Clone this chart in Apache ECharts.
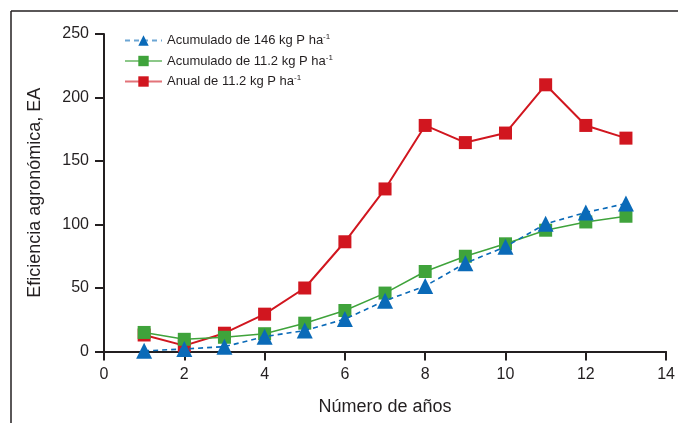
<!DOCTYPE html>
<html>
<head>
<meta charset="utf-8">
<script src="https://cdn.jsdelivr.net/npm/echarts@6/dist/echarts.min.js"></script>
<style>
  html, body { margin: 0; padding: 0; background: #ffffff; }
  #chart { width: 678px; height: 423px; }
</style>
</head>
<body>
<div id="chart"></div>
<script>
// Years since the start of the trial
var years = [1, 2, 3, 4, 5, 6, 7, 8, 9, 10, 11, 12, 13];

// Agronomic efficiency (EA) for each treatment
var acumulado146 = [0.5, 2, 3.8, 11.7, 16.5, 25.5, 40, 51.5, 69.5, 82.5, 100.5, 109.5, 116.5];
var acumulado112 = [15, 9.6, 11.2, 14, 22.3, 32.3, 46, 63, 75, 84.8, 95.5, 102, 106.5];
var anual112 = [13, 4.6, 14.4, 29.4, 50, 86.4, 128, 178, 164.5, 172, 210, 178, 168];

// Series labels (the unit's "-1" is set as a superscript)
var seriesNames = ['Acumulado de 146 kg P ha', 'Acumulado de 11.2 kg P ha', 'Anual de 11.2 kg P ha'];
var supText = '-1';

// Axis titles and tick values
var yTitle = 'Eficiencia agronómica, EA';
var xTitle = 'Número de años';
var xTicks = [0, 14, 2];
var yTicks = [0, 250, 50];

var BLUE = '#0a6ab8', GREEN = '#3fa33b', RED = '#d1161f', INK = '#231f20';
var FONT = 'Liberation Sans, Arial, sans-serif';

function pairs(vals) {
  return years.map(function (y, i) { return [y, vals[i]]; });
}

var chart = echarts.init(document.getElementById('chart'), null, { renderer: 'canvas' });

chart.setOption({
  backgroundColor: '#ffffff',
  animation: false,
  grid: { left: 104, right: 8.5, top: 34, bottom: 71.5, containLabel: false },
  graphic: [
    { type: 'line', shape: { x1: 11, y1: 11, x2: 678, y2: 11 }, style: { stroke: INK, lineWidth: 1.5 } },
    { type: 'line', shape: { x1: 11, y1: 11, x2: 11, y2: 423 }, style: { stroke: INK, lineWidth: 1.5 } }
  ],
  legend: {
    orient: 'vertical',
    left: 119,
    top: 28,
    itemWidth: 37,
    itemHeight: 13,
    itemGap: 6.5,
    data: seriesNames.map(function (n) { return { name: n, lineStyle: { opacity: 0.6 } }; }),
    formatter: function (name) { return name + '{sup|' + supText + '}'; },
    textStyle: {
      fontFamily: FONT,
      fontSize: 13,
      color: INK,
      rich: {
        sup: { fontFamily: FONT, fontSize: 8, color: INK, verticalAlign: 'top', padding: [0, 0, 7, 0] }
      }
    }
  },
  xAxis: {
    type: 'value',
    min: xTicks[0],
    max: xTicks[1],
    interval: xTicks[2],
    name: xTitle,
    nameLocation: 'middle',
    nameGap: 47,
    nameTextStyle: { fontFamily: FONT, fontSize: 18, color: INK },
    splitLine: { show: false },
    axisLine: { onZero: false, lineStyle: { color: INK, width: 2 } },
    axisTick: { show: true, length: 9, lineStyle: { color: INK, width: 2 } },
    axisLabel: { margin: 15, fontFamily: FONT, fontSize: 16, color: INK }
  },
  yAxis: {
    type: 'value',
    min: yTicks[0],
    max: yTicks[1],
    interval: yTicks[2],
    name: yTitle,
    nameLocation: 'middle',
    nameGap: 60,
    nameTextStyle: { fontFamily: FONT, fontSize: 18, color: INK },
    splitLine: { show: false },
    axisLine: { show: true, lineStyle: { color: INK, width: 2 } },
    axisTick: { show: true, length: 9, lineStyle: { color: INK, width: 2 } },
    axisLabel: { margin: 15, fontFamily: FONT, fontSize: 16, color: INK }
  },
  series: [
    {
      name: seriesNames[0],
      type: 'line',
      data: pairs(acumulado146),
      symbol: 'triangle',
      symbolSize: 16,
      z: 4,
      lineStyle: { color: BLUE, width: 1.6, type: [5, 4] },
      itemStyle: { color: BLUE }
    },
    {
      name: seriesNames[1],
      type: 'line',
      data: pairs(acumulado112),
      symbol: 'rect',
      symbolSize: 13,
      z: 3,
      lineStyle: { color: GREEN, width: 1.5 },
      itemStyle: { color: GREEN }
    },
    {
      name: seriesNames[2],
      type: 'line',
      data: pairs(anual112),
      symbol: 'rect',
      symbolSize: 13,
      z: 2,
      lineStyle: { color: RED, width: 2 },
      itemStyle: { color: RED }
    }
  ]
});
</script>
</body>
</html>
